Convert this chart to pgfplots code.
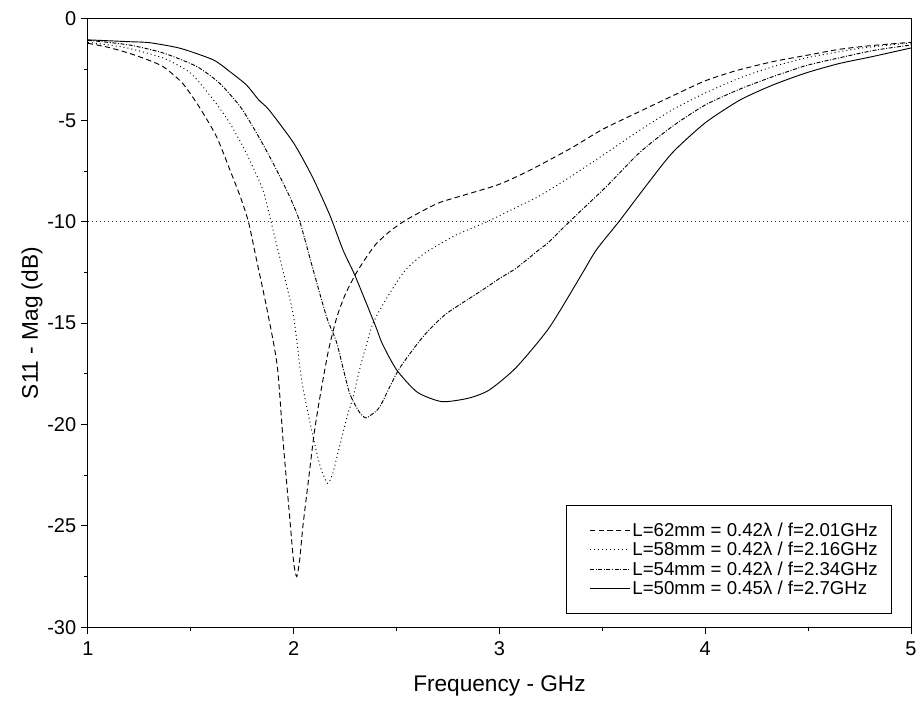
\documentclass[border=0pt]{standalone}
\usepackage{fontspec}
\setmainfont{Liberation Sans}
\usepackage{pgfplots}
\pgfplotsset{compat=1.18}
\begin{document}
\begin{tikzpicture}
\begin{axis}[
  scale only axis, width=618pt, height=456.75pt,
  xmin=1, xmax=5, ymin=-30, ymax=0,
  xtick={1,2,3,4,5}, ytick={-30,-25,-20,-15,-10,-5,0},
  minor x tick num=1, minor y tick num=1,
  tick pos=left, tick align=outside,
  major tick length=5.25pt, minor tick length=3pt,
  axis line style={line width=0.75pt},
  every tick/.style={black, line width=0.75pt},
  ticklabel style={font=\fontsize{15}{17}\selectfont},
  xticklabel style={yshift=-2pt},
  /pgf/number format/assume math mode=true,
  xlabel={Frequency - GHz}, ylabel={S11 - Mag (dB)},
  label style={font=\fontsize{17}{19}\selectfont},
  xlabel style={at={(axis description cs:0.5,-0.097)}, anchor=center},
  ylabel style={at={(axis description cs:-0.068,0.5)}, anchor=center},
  legend cell align=left,
  legend style={at={(axis description cs:0.977,0.0213)}, anchor=south east,
    draw=black, line width=0.75pt, inner xsep=9pt, inner ysep=11.5pt,
    font=\fontsize{14}{15}\selectfont,
    nodes={inner ysep=1.5pt, inner xsep=1.5pt}},
  legend image code/.code={\path (0pt,0pt); \draw[#1] (8pt,0pt) -- (38pt,0pt);},
  every axis plot/.append style={line width=0.7pt, black},
]
\addplot[forget plot, black!80, line width=0.6pt, dash pattern=on 0.75pt off 2.25pt] coordinates {(1,-10) (5,-10)};

\addplot[smooth, tension=0.4, dash pattern=on 4pt off 2.5pt] coordinates {
(1.00,-1.20) (1.10,-1.40) (1.20,-1.69) (1.30,-2.05) (1.37,-2.38) (1.46,-3.17)
(1.54,-4.32) (1.625,-5.80) (1.69,-7.44) (1.74,-8.75) (1.78,-10.0) (1.82,-11.9)
(1.87,-14.3) (1.92,-17.1) (1.95,-21.0) (1.98,-24.5) (2.00,-26.8) (2.015,-27.5)
(2.03,-26.6) (2.045,-25.0) (2.07,-22.9) (2.10,-20.4) (2.13,-18.5) (2.17,-16.3)
(2.21,-14.7) (2.25,-13.6) (2.30,-12.6) (2.35,-11.8) (2.40,-11.1) (2.47,-10.45)
(2.54,-9.95) (2.62,-9.5) (2.71,-9.05) (2.84,-8.65) (3.00,-8.15) (3.15,-7.45)
(3.35,-6.36) (3.50,-5.45) (3.68,-4.57) (3.85,-3.75) (4.00,-3.05) (4.15,-2.55)
(4.33,-2.10) (4.50,-1.78) (4.65,-1.50) (4.80,-1.32) (5.00,-1.15)};
\addlegendentry{L=62mm = 0.42λ / f=2.01GHz}

\addplot[smooth, tension=0.4, dash pattern=on 0.75pt off 2.25pt] coordinates {
(1.00,-1.15) (1.10,-1.28) (1.20,-1.45) (1.37,-1.94) (1.50,-2.68) (1.61,-3.99)
(1.69,-5.14) (1.77,-6.62) (1.85,-8.42) (1.89,-10.0) (1.95,-12.5) (2.00,-14.7)
(2.04,-17.9) (2.09,-20.4) (2.13,-22.1) (2.165,-22.9) (2.19,-22.4) (2.215,-21.4)
(2.26,-19.6) (2.29,-18.6) (2.32,-17.3) (2.375,-15.3) (2.40,-14.7) (2.45,-13.8)
(2.50,-13.0) (2.55,-12.3) (2.63,-11.6) (2.71,-11.1) (2.79,-10.65) (2.87,-10.3)
(2.95,-9.95) (3.05,-9.45) (3.19,-8.75) (3.35,-7.75) (3.52,-6.6) (3.68,-5.5)
(3.84,-4.48) (4.00,-3.65) (4.17,-2.9) (4.33,-2.35) (4.49,-1.92) (4.75,-1.45)
(5.00,-1.18)};
\addlegendentry{L=58mm = 0.42λ / f=2.16GHz}

\addplot[smooth, tension=0.4, dash pattern=on 3pt off 1.2pt on 0.75pt off 1.2pt] coordinates {
(1.00,-1.05) (1.20,-1.28) (1.37,-1.69) (1.53,-2.35) (1.64,-3.17) (1.74,-4.32)
(1.82,-5.63) (1.90,-7.11) (1.98,-8.75) (2.03,-10.0) (2.09,-12.2) (2.16,-14.7)
(2.21,-16.0) (2.27,-18.4) (2.32,-19.4) (2.35,-19.67) (2.38,-19.5) (2.42,-19.1)
(2.51,-17.3) (2.63,-15.65) (2.74,-14.55) (2.92,-13.35) (3.00,-12.8) (3.08,-12.3)
(3.19,-11.4) (3.24,-11.0) (3.35,-9.9) (3.52,-8.26) (3.68,-6.6) (3.84,-5.3)
(4.00,-4.24) (4.17,-3.45) (4.33,-2.84) (4.49,-2.3) (4.65,-1.92) (4.82,-1.55)
(5.00,-1.28)};
\addlegendentry{L=54mm = 0.42λ / f=2.34GHz}

\addplot[smooth, tension=0.4] coordinates {
(1.00,-1.03) (1.20,-1.12) (1.30,-1.17) (1.45,-1.45) (1.61,-2.02) (1.69,-2.6)
(1.77,-3.25) (1.83,-3.99) (1.88,-4.48) (2.00,-6.12) (2.09,-7.77) (2.175,-9.66)
(2.24,-11.4) (2.30,-12.7) (2.40,-15.2) (2.43,-16.0) (2.50,-17.3) (2.60,-18.4)
(2.72,-18.87) (2.85,-18.7) (2.95,-18.3) (3.08,-17.2) (3.24,-15.25) (3.39,-12.76)
(3.47,-11.4) (3.58,-10.0) (3.71,-8.26) (3.84,-6.6) (4.00,-5.12) (4.17,-3.99)
(4.33,-3.25) (4.49,-2.66) (4.65,-2.2) (4.81,-1.86) (5.00,-1.43)};
\addlegendentry{L=50mm = 0.45λ / f=2.7GHz}
\end{axis}
\path ([shift={(-66pt,-57.75pt)}]current axis.south west) rectangle ([shift={(6.75pt,14.25pt)}]current axis.north east);
\end{tikzpicture}
\end{document}
